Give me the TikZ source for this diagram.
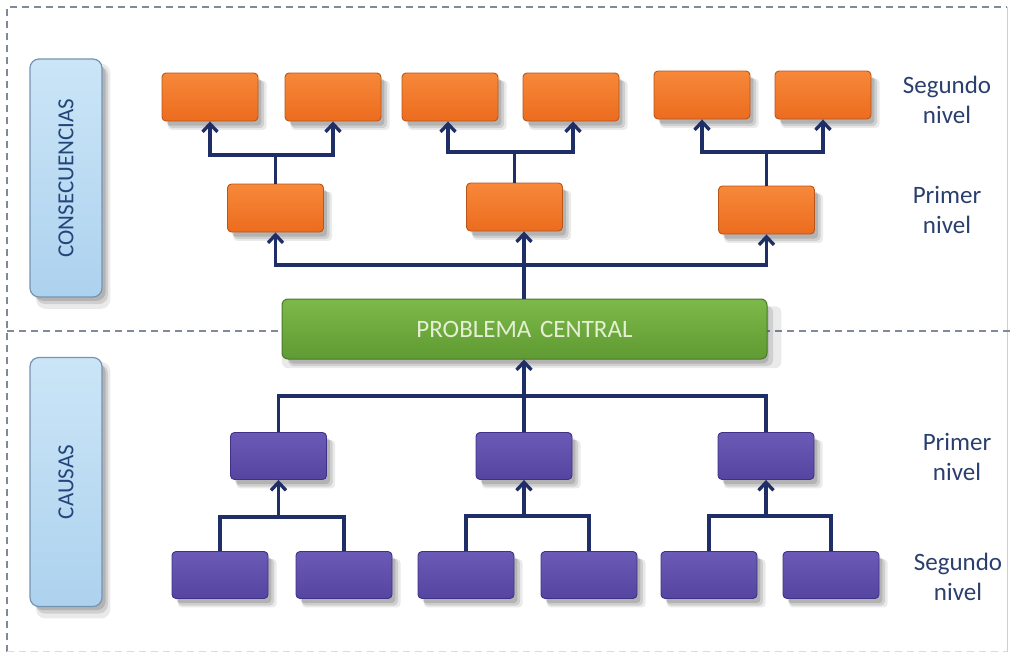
\documentclass[tikz,border=0pt]{standalone}
\usepackage{fontspec}
\setmainfont{Carlito}
\usetikzlibrary{arrows.meta,shadows}
\definecolor{navy}{HTML}{1F2E66}
\definecolor{labc}{HTML}{2B3F6E}
\definecolor{sidet}{HTML}{24457A}
\definecolor{frm}{HTML}{7E8A9A}
\definecolor{orT}{HTML}{F7883A}
\definecolor{orB}{HTML}{EC6C1E}
\definecolor{orD}{HTML}{B8561A}
\definecolor{puT}{HTML}{6B5BB6}
\definecolor{puB}{HTML}{5545A0}
\definecolor{puD}{HTML}{3E3186}
\definecolor{grT}{HTML}{7DB94A}
\definecolor{grB}{HTML}{5F9A33}
\definecolor{grD}{HTML}{4A7A2A}
\definecolor{grTx}{HTML}{E4EFD4}
\definecolor{blT}{HTML}{CBE5F7}
\definecolor{blB}{HTML}{ADD2EE}
\definecolor{blD}{HTML}{7594B4}
\begin{document}
\begin{tikzpicture}[x=1pt,y=-1pt,
  shad/.style={
    drop shadow={shadow xshift=7pt, shadow yshift=-8pt, opacity=0.10, fill=black!80, shadow scale=1.03},
    drop shadow={shadow xshift=6pt, shadow yshift=-7pt, opacity=0.15, fill=black!80},
    drop shadow={shadow xshift=4pt, shadow yshift=-5pt, opacity=0.18, fill=black!80, shadow scale=0.99}},
  box/.style={shad, rounded corners=4pt, minimum width=96pt, minimum height=48pt, inner sep=0pt, line width=0.9pt},
  cons/.style={box, draw=orD, top color=orT, bottom color=orB},
  caus/.style={box, draw=puD, top color=puT, bottom color=puB, minimum height=47pt},
  side/.style={shad, rounded corners=9pt, minimum width=72pt, inner sep=0pt, line width=1.2pt, draw=blD, top color=blT, bottom color=blB},
  sidetxt/.style={rotate=90, text=sidet, font=\fontsize{23}{26}\selectfont},
  lvl/.style={align=center, text=labc, font=\fontsize{25}{30}\selectfont},
  conn/.style={draw=navy, line width=3.3pt},
  arr/.style={conn, -{Straight Barb[length=8pt,width=15pt]}},
  frame/.style={draw=frm, line width=1.4pt, dash pattern=on 7pt off 5pt}
]
\useasboundingbox (0,0) rectangle (1015,654);
% frame
\draw[frame] (7,652) -- (7,7) -- (1007,7);
\draw[draw=frm!40, line width=1pt] (1007,7) -- (1007,652);
\draw[draw=frm!30, line width=1pt, dash pattern=on 7pt off 5pt] (7,651) -- (1007,651);
\draw[frame] (7,331) -- (1015,331);

% side boxes
\node[side, minimum height=238pt] (cb) at (66,178) {};
\node[sidetxt] (cbt) at (cb.center) {CONSECUENCIAS};
\node[side, minimum height=249pt] (kb) at (66,482) {};
\node[sidetxt] (kbt) at (kb.center) {CAUSAS};

% central problem
\node[shad, rounded corners=6pt, minimum width=485pt, minimum height=60pt, inner sep=0pt,
      line width=1pt, draw=grD, top color=grT, bottom color=grB, text=grTx,
      font=\fontsize{25}{30}\selectfont] (g) at (524.5,329) {PROBLEMA\hspace{0.35em}CENTRAL};

% consequences second level
\node[cons] (s1) at (210,97) {};
\node[cons] (s2) at (333,97) {};
\node[cons] (s3) at (450,97) {};
\node[cons] (s4) at (571,97) {};
\node[cons] (s5) at (702,95) {};
\node[cons] (s6) at (823,95) {};
% consequences first level
\node[cons] (f1) at (275.5,208) {};
\node[cons] (f2) at (514.5,207) {};
\node[cons] (f3) at (766.5,210) {};

% causes first level
\node[caus] (c1) at (278.5,456) {};
\node[caus] (c2) at (524,456) {};
\node[caus] (c3) at (766,456) {};
% causes second level
\node[caus] (d1) at (220,575) {};
\node[caus] (d2) at (344,575) {};
\node[caus] (d3) at (466,575) {};
\node[caus] (d4) at (589,575) {};
\node[caus] (d5) at (709,575) {};
\node[caus] (d6) at (831,575) {};

% level labels
\node[lvl] (l1) at (947,100) {Segundo\\nivel};
\node[lvl] (l2) at (947,210) {Primer\\nivel};
\node[lvl] (l3) at (957,457) {Primer\\nivel};
\node[lvl] (l4) at (958,577) {Segundo\\nivel};

% consequences connectors
\coordinate (t1) at (275.5,155);
\coordinate (t2) at (514.5,152);
\coordinate (t3) at (766.5,152);
\draw[conn] (f1.north) -- (t1);
\draw[conn] (f2.north) -- (t2);
\draw[conn] (f3.north) -- (t3);
\draw[arr] (t1) -| (s1.south);
\draw[arr] (t1) -| (s2.south);
\draw[arr] (t2) -| ([xshift=-2pt]s3.south);
\draw[arr] (t2) -| ([xshift=2pt]s4.south);
\draw[arr] (t3) -| (s5.south);
\draw[arr] (t3) -| (s6.south);

\coordinate (hc) at (524,265);
\draw[conn] (g.north -| hc) -- (hc);
\draw[arr] (hc) -| (f1.south);
\draw[arr] (hc) -| (f3.south);
\draw[arr] (hc) -- (f2.south -| hc);

% causes connectors
\coordinate (hb) at (524,396);
\draw[arr] (c2.north) -- (g.south -| c2.north);
\draw[conn] (c1.north) |- (hb) -| (c3.north);

\coordinate (j1) at (278.5,517);
\coordinate (j2) at (524,516);
\coordinate (j3) at (766,516);
\draw[conn] (d1.north) |- (j1) -| (d2.north);
\draw[conn] (d3.north) |- (j2) -| (d4.north);
\draw[conn] (d5.north) |- (j3) -| (d6.north);
\draw[arr] (j1) -- (c1.south);
\draw[arr] (j2) -- (c2.south);
\draw[arr] (j3) -- (c3.south);
\end{tikzpicture}
\end{document}
